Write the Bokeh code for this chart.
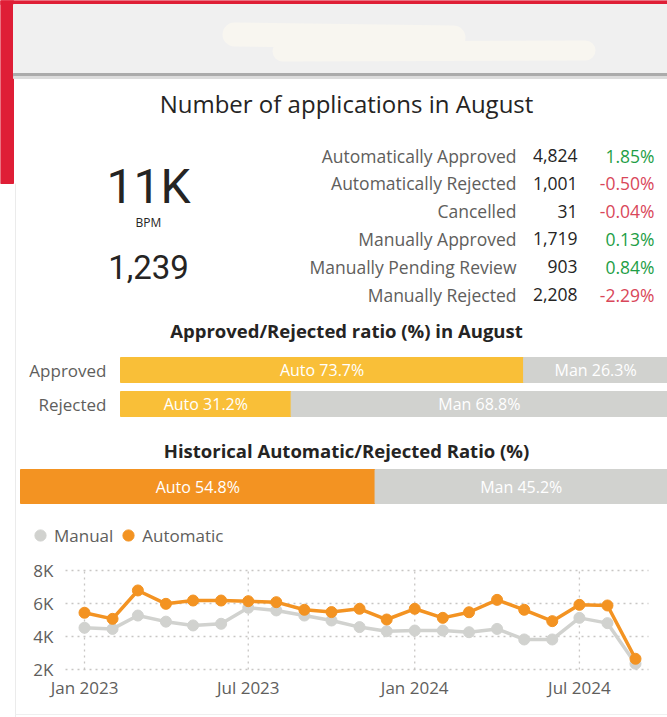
from datetime import datetime
import pandas as pd
from bokeh.plotting import figure
from bokeh.models import (Range1d, FixedTicker, Legend, LegendItem, LinearAxis,
                          DatetimeAxis, DatetimeTickFormatter)
from bokeh.core.properties import value
from bokeh.embed import file_html
from bokeh.resources import INLINE

# ---------------- data ----------------
month_name = "August"
status_labels = ["Automatically Approved", "Automatically Rejected", "Cancelled",
                 "Manually Approved", "Manually Pending Review", "Manually Rejected"]
status_counts = [4824, 1001, 31, 1719, 903, 2208]
status_change = [1.85, -0.50, -0.04, 0.13, 0.84, -2.29]
bpm_label = "BPM"
bpm_count = 1239

ratio_categories = ["Approved", "Rejected"]
ratio_auto = [73.7, 31.2]
ratio_manual = [26.3, 68.8]

hist_auto = [54.8]
hist_manual = [45.2]

months = pd.date_range("2023-01-01", "2024-09-01", freq="MS")
manual_apps = [4530, 4460, 5270, 4900, 4670, 4770, 5740, 5580, 5270, 4970, 4570,
               4320, 4360, 4360, 4260, 4460, 3820, 3820, 5130, 4810, 2350]
automatic_apps = [5440, 5070, 6790, 5980, 6180, 6180, 6140, 6080, 5620, 5480, 5680,
                  5030, 5680, 5130, 5470, 6220, 5620, 4930, 5920, 5880, 2650]

x_tick_dates = ["2023-01-01", "2023-07-01", "2024-01-01", "2024-07-01"]
x_tick_labels = ["Jan 2023", "Jul 2023", "Jan 2024", "Jul 2024"]
y_ticks = [2000, 4000, 6000, 8000]
y_tick_labels = ["2K", "4K", "6K", "8K"]

# ---------------- style / layout ----------------
W, H = 667, 717
FONT = "Open Sans"
NUM_FONT = "Roboto"
DARK = "#252423"
GREY_TXT = "#605E5C"
GREEN = "#1E9E46"
RED = "#D9475A"
RED_BAR = "#DF1E36"
YELLOW = "#F9BF38"
ORANGE = "#F39322"
GREY_BAR = "#D1D2CF"
GRID = "#C8C6C4"


def ms(d):
    return pd.Timestamp(d).value / 1e6


def span_range(v_a, px_a, v_b, px_b, px_lo, px_hi):
    """Range whose values map px_a->v_a and px_b->v_b over a canvas px_lo..px_hi."""
    k = (v_b - v_a) / (px_b - px_a)
    return Range1d(v_a + (px_lo - px_a) * k, v_a + (px_hi - px_a) * k)


p = figure(width=W, height=H, x_range=Range1d(0, W), y_range=Range1d(H, 0),
           min_border=0, x_axis_location=None, y_axis_location=None,
           output_backend="svg", toolbar_location=None, outline_line_color=None)
for g in p.grid:
    g.visible = False
p.background_fill_color = "white"
p.border_fill_color = "white"

# section scales (layout: where each value range sits on the canvas)
p.extra_x_ranges = {
    "ratio": span_range(0, 120, 100, 667, 0, W),
    "hist": span_range(0, 20, 100, 667, 0, W),
    "date": span_range(ms("2023-01-01"), 84, ms("2024-09-01"), 635, 0, W),
}
p.extra_y_ranges = {
    "apps": span_range(8000, 570, 2000, 669, H, 0),
}

# ---------- header decoration ----------
p.quad(left=[0], right=[W], top=[0], bottom=[4], color=RED_BAR)
p.quad(left=[0], right=[13], top=[0], bottom=[183], color=RED_BAR)
p.quad(left=[13], right=[W], top=[4], bottom=[73], color="#F0F0F0")
p.quad(left=[13], right=[W], top=[73], bottom=[76], color="#ABABAB")
p.quad(left=[13], right=[W], top=[76], bottom=[78], color="#DCDCDC")
p.line([15, 15], [183, H], color="#EBEBEB", line_width=1)
p.line([15, W], [714, 714], color="#EFEFEF", line_width=1)
# redacted header text
p.line([234, 453], [34, 37], color="#F8F6F0", line_width=24, line_cap="round")
p.line([282, 585], [51, 50], color="#F8F6F0", line_width=20, line_cap="round")

# ---------- KPI section ----------
p.text(x=[346], y=[103], text=[f"Number of applications in {month_name}"],
       text_font=value(FONT), text_font_size="24px", text_color=DARK,
       text_align="center", text_baseline="middle")

total = sum(status_counts)
total_txt = f"{round(total / 1000):d}K"
p.text(x=[148], y=[186], text=[total_txt], text_font=value(NUM_FONT),
       text_font_size="48px", text_color=DARK, text_align="center", text_baseline="middle")
p.text(x=[148], y=[222], text=[bpm_label], text_font=value(FONT),
       text_font_size="12px", text_color=DARK, text_align="center", text_baseline="middle")
p.text(x=[148], y=[266], text=[f"{bpm_count:,}"], text_font=value(NUM_FONT),
       text_font_size="33px", text_color=DARK, text_align="center", text_baseline="middle")

row_y = [155 + 27.8 * i for i in range(len(status_labels))]
p.text(x=[516] * len(row_y), y=row_y, text=status_labels, text_font=value(FONT),
       text_font_size="17.5px", text_color=GREY_TXT, text_align="right", text_baseline="middle")
p.text(x=[577] * len(row_y), y=row_y, text=[f"{c:,}" for c in status_counts],
       text_font=value(FONT), text_font_size="17.5px", text_color=DARK,
       text_align="right", text_baseline="middle")
p.text(x=[654] * len(row_y), y=row_y, text=[f"{c:.2f}%" for c in status_change],
       text_font=value(FONT), text_font_size="17.5px",
       text_color=[GREEN if c >= 0 else RED for c in status_change],
       text_align="right", text_baseline="middle")

# ---------- August ratio bars ----------
p.text(x=[346], y=[330], text=[f"Approved/Rejected ratio (%) in {month_name}"],
       text_font=value(FONT), text_font_size="18.5px", text_font_style="bold",
       text_color=DARK, text_align="center", text_baseline="middle")
bar_rows = [369.5, 403.5]
ratio_total = [a + m for a, m in zip(ratio_auto, ratio_manual)]
p.hbar(y=bar_rows, left=0, right=ratio_auto, height=25, color=YELLOW, x_range_name="ratio")
p.hbar(y=bar_rows, left=ratio_auto, right=ratio_total, height=25, color=GREY_BAR,
       x_range_name="ratio")
p.text(x=[a / 2 for a in ratio_auto], y=bar_rows, text=[f"Auto {a:.1f}%" for a in ratio_auto],
       x_range_name="ratio", text_font=value(FONT), text_font_size="16px",
       text_color="white", text_align="center", text_baseline="middle")
p.text(x=[a + m / 2 for a, m in zip(ratio_auto, ratio_manual)], y=bar_rows,
       text=[f"Man {m:.1f}%" for m in ratio_manual], x_range_name="ratio",
       text_font=value(FONT), text_font_size="16px", text_color="white",
       text_align="center", text_baseline="middle")
p.text(x=[106, 106], y=bar_rows, text=ratio_categories, text_font=value(FONT),
       text_font_size="17px", text_color=GREY_TXT, text_align="right", text_baseline="middle")

# ---------- historical ratio bar ----------
p.text(x=[346], y=[450], text=["Historical Automatic/Rejected Ratio (%)"],
       text_font=value(FONT), text_font_size="18.5px", text_font_style="bold",
       text_color=DARK, text_align="center", text_baseline="middle")
hist_row = [486]
hist_total = [a + m for a, m in zip(hist_auto, hist_manual)]
p.hbar(y=hist_row, left=0, right=hist_auto, height=34, color=ORANGE, x_range_name="hist")
p.hbar(y=hist_row, left=hist_auto, right=hist_total, height=34, color=GREY_BAR,
       x_range_name="hist")
p.text(x=[a / 2 for a in hist_auto], y=hist_row, text=[f"Auto {a:.1f}%" for a in hist_auto],
       x_range_name="hist", text_font=value(FONT), text_font_size="16px",
       text_color="white", text_align="center", text_baseline="middle")
p.text(x=[a + m / 2 for a, m in zip(hist_auto, hist_manual)], y=hist_row,
       text=[f"Man {m:.1f}%" for m in hist_manual], x_range_name="hist",
       text_font=value(FONT), text_font_size="16px", text_color="white",
       text_align="center", text_baseline="middle")

# ---------- monthly line chart ----------
CH_LEFT, CH_RIGHT, CH_BOTTOM = 65, 648, 675
x_ticks_ms = [ms(d) for d in x_tick_dates]
# dotted grid lines at the tick values
p.segment(x0=CH_LEFT, x1=CH_RIGHT, y0=y_ticks, y1=y_ticks, y_range_name="apps",
          line_color=GRID, line_dash="2 4", line_width=1.3)
p.segment(x0=x_ticks_ms, x1=x_ticks_ms, y0=min(y_ticks), y1=max(y_ticks),
          x_range_name="date", y_range_name="apps",
          line_color=GRID, line_dash="2 4", line_width=1.3)

p.line(months, manual_apps, color=GREY_BAR, line_width=3.5,
       x_range_name="date", y_range_name="apps")
s_man = p.scatter(months, manual_apps, size=11, color=GREY_BAR,
                  x_range_name="date", y_range_name="apps")
p.line(months, automatic_apps, color=ORANGE, line_width=3.5,
       x_range_name="date", y_range_name="apps")
s_auto = p.scatter(months, automatic_apps, size=11, color=ORANGE,
                   x_range_name="date", y_range_name="apps")

yaxis = LinearAxis(y_range_name="apps", fixed_location=CH_LEFT,
                   ticker=FixedTicker(ticks=y_ticks))
yaxis.major_label_overrides = dict(zip(y_ticks, y_tick_labels))
yaxis.major_label_standoff = 12
xaxis = DatetimeAxis(x_range_name="date", fixed_location=CH_BOTTOM,
                     ticker=FixedTicker(ticks=x_ticks_ms),
                     formatter=DatetimeTickFormatter(months="%b %Y", days="%b %Y"))
xaxis.major_label_overrides = dict(zip(x_ticks_ms, x_tick_labels))
xaxis.major_label_standoff = 0
for ax in (xaxis, yaxis):
    ax.axis_line_color = None
    ax.major_tick_line_color = None
    ax.minor_tick_line_color = None
    ax.major_tick_out = 0
    ax.major_tick_in = 0
    ax.major_label_text_font = FONT
    ax.major_label_text_font_size = "17px"
    ax.major_label_text_color = GREY_TXT
p.add_layout(yaxis, "left")
p.add_layout(xaxis, "below")

legend = Legend(items=[LegendItem(label="Manual", renderers=[s_man]),
                       LegendItem(label="Automatic", renderers=[s_auto])],
                orientation="horizontal", location=(26, 167),
                label_text_font=FONT, label_text_font_size="17px",
                label_text_color=GREY_TXT, glyph_width=28, glyph_height=30,
                label_standoff=0, spacing=1, padding=0, margin=0,
                border_line_color=None, background_fill_alpha=0)
p.add_layout(legend, "center")

open("out.html", "w").write(file_html(p, INLINE))
